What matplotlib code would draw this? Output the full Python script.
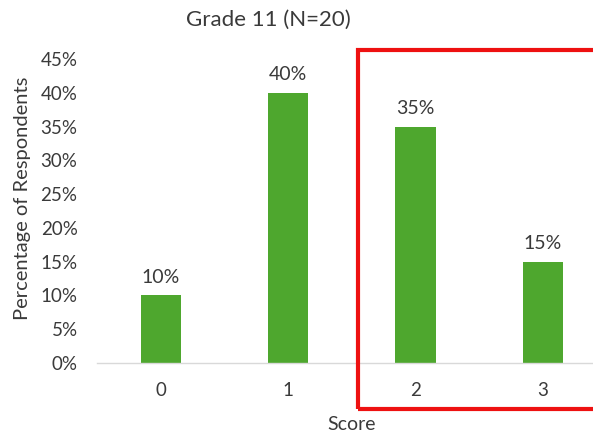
import matplotlib
matplotlib.use("Agg")
import matplotlib.pyplot as plt
from matplotlib.patches import Rectangle

categories = ["0", "1", "2", "3"]
values = [10, 40, 35, 15]
yticks = [0, 5, 10, 15, 20, 25, 30, 35, 40, 45]

plt.rcParams['font.family'] = ['Lato', 'DejaVu Sans']
text_color = "#3A3A3A"
bar_color = "#4EA72E"

W, H = 593, 436
fig = plt.figure(figsize=(W / 100, H / 100), dpi=100)
ax_left, ax_right, ax_bottom, ax_top = 97, 606.7, 363, 59
ax = fig.add_axes([ax_left / W, (H - ax_bottom) / H, (ax_right - ax_left) / W, (ax_bottom - ax_top) / H])

x = list(range(len(categories)))
bars = ax.bar(x, values, width=0.315, color=bar_color, zorder=2)
for xi, v in zip(x, values):
    ax.annotate(f"{v}%", (xi, v), xytext=(0, 7), textcoords="offset points",
                ha="center", va="bottom", fontsize=14, color=text_color)

ax.set_xlim(-0.5, 3.5)
ax.set_ylim(0, 45)
ax.set_yticks(yticks)
ax.set_yticklabels([f"{t}%" for t in yticks])
ax.set_xticks(x)
ax.set_xticklabels(categories)
ax.tick_params(axis="both", length=0, labelsize=13.5, colors=text_color)
ax.tick_params(axis="y", pad=14)
ax.tick_params(axis="x", pad=14)
for s in ["top", "right", "left"]:
    ax.spines[s].set_visible(False)
ax.spines["bottom"].set_color("#D9D9D9")
ax.spines["bottom"].set_linewidth(1)

ax.set_ylabel("Percentage of Respondents", fontsize=14.5, color=text_color)
ax.yaxis.set_label_coords(-0.13, 0.543)
fig.text(352 / W, 1 - 424 / H, "Score", ha="center", va="center", fontsize=14, color=text_color)
fig.text(268 / W, 1 - 20 / H, "Grade 11 (N=20)", ha="center", va="center", fontsize=16, color=text_color)

rx0, rx1, ry0, ry1 = 358, 640, 50.5, 409
fig.patches.append(Rectangle((rx0 / W, (H - ry1) / H), (rx1 - rx0) / W, (ry1 - ry0) / H,
                             transform=fig.transFigure, fill=False, edgecolor="#EE1111",
                             linewidth=3, zorder=5))

fig.savefig("out.png", dpi=100)
